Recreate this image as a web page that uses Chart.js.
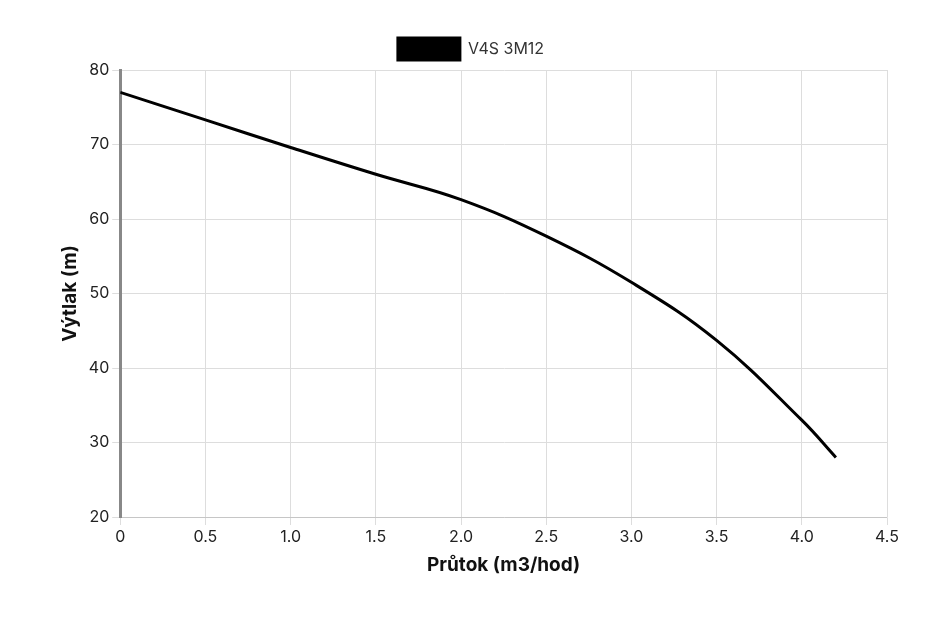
<!DOCTYPE html>
<html>
<head>
<meta charset="utf-8">
<script src="https://cdn.jsdelivr.net/npm/chart.js@4/dist/chart.umd.min.js"></script>
<style>
  html, body { margin: 0; padding: 0; background: #fff; }
  #wrap { width: 930px; height: 631px; }
</style>
</head>
<body>
<div id="wrap"><canvas id="chart"></canvas></div>
<script>
const flow = [0, 0.5, 1.0, 1.5, 2.0, 2.5, 3.0, 3.5, 4.0, 4.2]
const head = [77, 73.3, 69.6, 66, 62.6, 57.7, 51.5, 43.7, 33, 28]

const points = flow.map((x, i) => ({ x: x, y: head[i] }))

Chart.defaults.font.family = "Inter, 'Open Sans', sans-serif"
Chart.defaults.color = "#222"

new Chart(document.getElementById("chart"), {
  type: "line",
  data: {
    datasets: [{
      label: "V4S 3M12",
      data: points,
      borderColor: "#000",
      backgroundColor: "#000",
      borderWidth: 3,
      pointRadius: 0,
      tension: 0.4,
      fill: false
    }]
  },
  options: {
    responsive: true,
    maintainAspectRatio: false,
    animation: false,
    layout: { padding: { left: 55, right: 43, top: 28, bottom: 50 } },
    plugins: {
      legend: {
        labels: { boxWidth: 62, boxHeight: 22, font: { size: 16 }, color: "#333" }
      },
      tooltip: { enabled: false }
    },
    scales: {
      x: {
        type: "linear",
        min: 0,
        max: 4.5,
        ticks: {
          stepSize: 0.5,
          font: { size: 16 },
          callback: v => v === 0 ? "0" : v.toFixed(1)
        },
        grid: { color: "#ddd" },
        title: { display: true, text: "Průtok (m3/hod)", font: { size: 19, weight: "bold" }, color: "#111" }
      },
      y: {
        min: 20,
        max: 80,
        ticks: { stepSize: 10, font: { size: 16 } },
        grid: { color: "#ddd" },
        border: { color: "#888", width: 3 },
        title: { display: true, text: "Výtlak (m)", font: { size: 19, weight: "bold" }, color: "#111" }
      }
    }
  }
})
</script>
</body>
</html>
